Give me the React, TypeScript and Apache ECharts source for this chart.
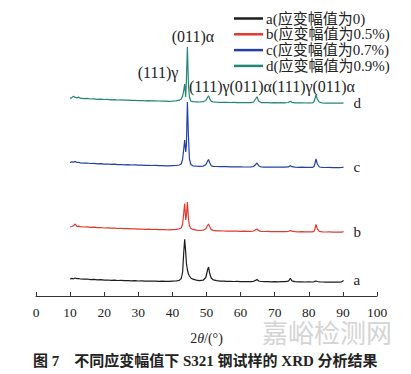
import React, { useEffect, useRef } from "react";
import * as echarts from "echarts";

// 2θ positions (deg), shared by all four patterns
const twoTheta = [
  10, 10.5, 11, 11.5, 12, 12.5, 13,
  14, 15, 16, 17, 18, 19, 20, 21, 22, 23, 24, 25, 26, 27, 28, 29, 30, 31, 32, 33, 34, 35, 36, 37, 38, 39, 40, 41, 42,
  42.6, 43.0, 43.3, 43.6, 43.9, 44.1, 44.4, 44.7, 45.0, 45.4, 46,
  47, 48, 49,
  49.8, 50.3, 50.6, 50.9, 51.4,
  52, 53, 54, 55, 56, 57, 58, 59, 60, 61, 62, 63,
  63.8, 64.4, 64.8, 65.3,
  66, 67, 68, 69, 70, 71, 72, 73, 74,
  74.3, 74.6, 75.0,
  76, 77, 78, 79, 80, 81,
  81.5, 81.8, 82.1, 82.5, 83.1,
  84, 85, 86, 87, 88, 89,
  89.6, 90.2,
];

// stacked intensities (arbitrary units, offset per pattern)
const seriesA = [
  17, 17.6, 17.2, 18, 17.3, 17.5, 17.0,
  16.8, 17.0, 16.4, 16.6, 16.1, 16.3, 15.9, 16.0, 15.7, 15.8, 15.5, 15.6, 15.3, 15.4, 15.2, 15.3, 15.0, 15.1, 14.9, 15.0, 14.8, 14.9, 14.7, 14.8, 14.7, 14.6, 14.8, 15.0, 15.6,
  17.5, 24, 42, 56.7, 44, 33, 26, 22, 20, 18, 16.8,
  15.8, 15.4, 15.8,
  18.5, 26, 29, 23, 17.8,
  16.2, 15.3, 14.9, 14.8, 14.6, 14.7, 14.5, 14.6, 14.4, 14.5, 14.3, 14.4,
  14.7, 15.6, 16.5, 15.0,
  14.5, 14.3, 14.4, 14.2, 14.3, 14.2, 14.3, 14.4, 14.9,
  16.2, 17.8, 15.2,
  14.3, 14.1, 14.2, 14.0, 14.1, 14.0,
  14.2, 14.6, 15.0, 14.5, 14.1,
  14.0, 13.9, 14.0, 13.8, 13.9, 13.8,
  14.2, 15.6,
];
const seriesB = [
  69, 69.5, 70.2, 72, 69.6, 69.8, 69.3,
  69.0, 69.2, 68.6, 68.8, 68.3, 68.5, 68.0, 68.2, 67.8, 67.9, 67.5, 67.7, 67.3, 67.4, 67.1, 67.2, 66.9, 67.0, 66.7, 66.8, 66.5, 66.6, 66.4, 66.5, 66.3, 66.2, 66.4, 66.6, 67.2,
  68, 72, 82, 92.5, 76, 80, 94, 78, 70, 67.8, 66.6,
  65.8, 65.5, 65.8,
  67.2, 70.5, 72, 69.5, 66.4,
  65.6, 65.2, 65.1, 65.0, 64.9, 65.0, 64.8, 64.9, 64.7, 64.8, 64.6, 64.7,
  65.0, 66.2, 67.0, 65.3,
  64.6, 64.5, 64.6, 64.4, 64.5, 64.3, 64.4, 64.3, 64.5,
  65.0, 65.5, 64.8,
  64.3, 64.2, 64.3, 64.1, 64.2, 64.1,
  64.6, 67.0, 71.5, 67.0, 64.6,
  64.1, 64.0, 64.1, 63.9, 64.0, 63.8,
  63.9, 64.4,
];
const seriesC = [
  133.4, 134.2, 133.8, 134.6, 133.5, 133.7, 133.1,
  132.9, 133.0, 132.5, 132.6, 132.2, 132.3, 131.9, 132.0, 131.7, 131.8, 131.4, 131.5, 131.2, 131.3, 131.0, 131.1, 130.8, 130.9, 130.6, 130.7, 130.5, 130.6, 130.4, 130.3, 130.2, 130.1, 130.3, 130.5, 131.0,
  132, 137, 146, 156, 144, 150, 194, 160, 137, 131.5, 130.2,
  129.8, 129.6, 129.9,
  131.2, 134.8, 136.5, 133.5, 130.2,
  129.7, 129.5, 129.4, 129.3, 129.3, 129.2, 129.2, 129.1, 129.1, 129.0, 129.0, 129.1,
  129.5, 131.5, 133.0, 130.2,
  129.0, 128.9, 129.0, 128.8, 128.9, 128.8, 128.9, 128.8, 129.1,
  129.7, 130.4, 129.3,
  128.8, 128.7, 128.8, 128.6, 128.7, 128.6,
  129.3, 132.5, 137.0, 132.0, 129.0,
  128.6, 128.5, 128.6, 128.4, 128.5, 128.4,
  128.5, 128.9,
];
const seriesD = [
  197.6, 198.4, 199.8, 198.6, 198.2, 198.9, 197.8,
  197.4, 197.6, 197.0, 197.2, 196.7, 196.9, 196.5, 196.6, 196.2, 196.3, 196.0, 196.1, 195.8, 195.9, 195.6, 195.7, 195.4, 195.5, 195.2, 195.3, 195.1, 195.2, 195.0, 194.9, 194.8, 194.7, 194.9, 195.2, 195.8,
  197, 200, 205, 212, 199, 215, 249, 212, 199, 195, 194.4,
  194.2, 194.0, 194.3,
  195.5, 198.5, 200.2, 197.6, 194.6,
  194.0, 193.8, 193.7, 193.6, 193.7, 193.5, 193.6, 193.4, 193.5, 193.4, 193.3, 193.4,
  194.0, 197.0, 199.2, 195.0,
  193.4, 193.3, 193.4, 193.2, 193.3, 193.2, 193.3, 193.2, 193.5,
  194.2, 194.8, 193.7,
  193.2, 193.1, 193.2, 193.0, 193.1, 193.0,
  194.0, 197.2, 201.2, 197.0, 193.8,
  193.0, 192.9, 193.0, 192.8, 192.9, 192.8,
  192.9, 193.2,
];

const seriesNames = ["a(应变幅值为0)", "b(应变幅值为0.5%)", "c(应变幅值为0.7%)", "d(应变幅值为0.9%)"];
const curveTags = ["a", "b", "c", "d"];
const seriesColors = ["#1c1c1c", "#e0392e", "#2240a6", "#238676"];
const xTicks = { min: 0, max: 100, interval: 10 };

const SERIF = "'Liberation Serif','DejaVu Serif','Noto Sans CJK SC',serif";
const CJK_BOLD = "'Liberation Serif','Noto Sans CJK SC',serif";

export default function App() {
  const ref = useRef<HTMLDivElement>(null);
  useEffect(() => {
    if (!ref.current) return;
    const chart = echarts.init(ref.current, null, { renderer: "svg" });
    const all = [seriesA, seriesB, seriesC, seriesD];
    chart.setOption({
      animation: false,
      backgroundColor: "#ffffff",
      grid: { left: 36, right: 34, top: 20, bottom: 78 },
      legend: {
        orient: "vertical",
        left: 229,
        top: 6,
        icon: "rect",
        itemWidth: 29,
        itemHeight: 2.5,
        itemGap: 0.8,
        data: seriesNames,
        textStyle: { fontFamily: SERIF, fontSize: 15, color: "#222", lineHeight: 15, padding: [0, 0, 0, -2] },
      },
      xAxis: {
        type: "value",
        min: xTicks.min,
        max: xTicks.max,
        interval: xTicks.interval,
        name: "2{i|θ}/(°)",
        nameLocation: "middle",
        nameGap: 35,
        nameTextStyle: {
          fontFamily: SERIF,
          fontSize: 14,
          color: "#222",
          rich: { i: { fontStyle: "italic", fontFamily: SERIF, fontSize: 14, color: "#222" } },
        },
        axisLine: { show: true, lineStyle: { color: "#333", width: 1 } },
        axisTick: { show: true, inside: true, length: 4, lineStyle: { color: "#333" } },
        axisLabel: { fontFamily: SERIF, fontSize: 13.5, color: "#222", margin: 10 },
        splitLine: { show: false },
      },
      yAxis: { type: "value", min: 0, max: 276, show: false },
      series: all.map((vals, i) => ({
        type: "line",
        name: seriesNames[i],
        data: twoTheta.map((x, k) => [x, vals[k]]),
        showSymbol: false,
        symbol: "none",
        color: seriesColors[i],
        lineStyle: { color: seriesColors[i], width: 1.2 },
        endLabel: {
          show: true,
          formatter: () => curveTags[i],
          fontFamily: SERIF,
          fontSize: 15,
          color: "#222",
          distance: 10,
        },
      })),
      graphic: [
        { type: "text", left: 262, top: 318, z: 1, style: { text: "嘉峪检测网", font: "26px 'Noto Sans CJK SC'", fill: "#d4d4d4" } },
        { type: "text", left: 292, top: 352, z: 1, style: { text: "AnyTesting.com", font: "italic 12px 'Liberation Sans'", fill: "#eeeeee" } },
        { type: "text", x: 193, y: 36, z: 10, style: { text: "(011)α", font: `16px ${SERIF}`, fill: "#222", align: "center", verticalAlign: "middle" } },
        { type: "text", x: 158, y: 72, z: 10, style: { text: "(111)γ", font: `16px ${SERIF}`, fill: "#222", align: "center", verticalAlign: "middle" } },
        { type: "text", x: 189, y: 86, z: 10, style: { text: "(111)γ(011)α(111)γ(011)α", font: `16px ${SERIF}`, fill: "#222", align: "left", verticalAlign: "middle" } },
        { type: "text", x: 33, y: 361, z: 10, style: { text: "图 7　不同应变幅值下 S321 钢试样的 XRD 分析结果", font: `bold 15px ${CJK_BOLD}`, fill: "#222", align: "left", verticalAlign: "middle" } },
      ],
    });
    return () => chart.dispose();
  }, []);
  return <div ref={ref} style={{ position: "absolute", left: 0, top: 0, width: 411, height: 374 }} />;
}
